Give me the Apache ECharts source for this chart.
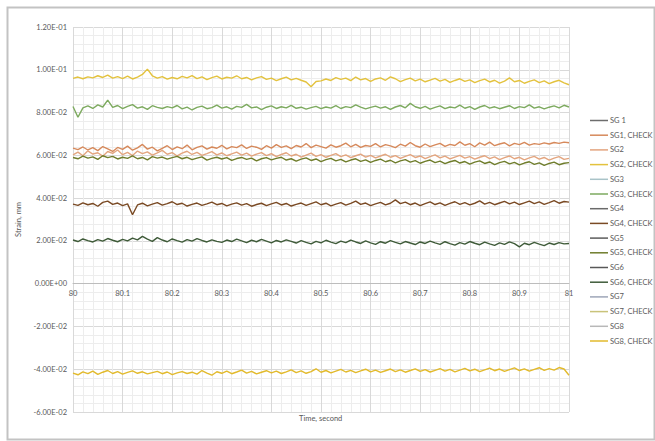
<!DOCTYPE html>
<html>
<head>
<meta charset="utf-8">
<script src="https://cdn.jsdelivr.net/npm/echarts@6/dist/echarts.min.js"></script>
<style>
html,body{margin:0;padding:0;background:#fff;}
#c{width:655px;height:441px;}
</style>
</head>
<body>
<div id="c"></div>
<script>
// ---------- data ----------
var times = [80.00,80.01,80.02,80.03,80.04,80.05,80.06,80.07,80.08,80.09,
80.10,80.11,80.12,80.13,80.14,80.15,80.16,80.17,80.18,80.19,
80.20,80.21,80.22,80.23,80.24,80.25,80.26,80.27,80.28,80.29,
80.30,80.31,80.32,80.33,80.34,80.35,80.36,80.37,80.38,80.39,
80.40,80.41,80.42,80.43,80.44,80.45,80.46,80.47,80.48,80.49,
80.50,80.51,80.52,80.53,80.54,80.55,80.56,80.57,80.58,80.59,
80.60,80.61,80.62,80.63,80.64,80.65,80.66,80.67,80.68,80.69,
80.70,80.71,80.72,80.73,80.74,80.75,80.76,80.77,80.78,80.79,
80.80,80.81,80.82,80.83,80.84,80.85,80.86,80.87,80.88,80.89,
80.90,80.91,80.92,80.93,80.94,80.95,80.96,80.97,80.98,80.99,81.00];

var seriesNames = ['SG 1','SG1, CHECK','SG2','SG2, CHECK','SG3','SG3, CHECK','SG4','SG4, CHECK',
                   'SG5','SG5, CHECK','SG6','SG6, CHECK','SG7','SG7, CHECK','SG8','SG8, CHECK'];

var sg1 = [];
var sg1Check = [.0634,.0627,.0639,.0625,.0636,.0622,.0641,.0630,.0618,.0637,
.0628,.0643,.0624,.0635,.0651,.0629,.0638,.0621,.0633,.0645,
.0627,.0640,.0631,.0648,.0626,.0637,.0644,.0629,.0639,.0633,
.0647,.0630,.0641,.0636,.0649,.0632,.0643,.0638,.0628,.0645,
.0634,.0650,.0637,.0644,.0631,.0646,.0639,.0655,.0636,.0648,
.0641,.0634,.0649,.0638,.0645,.0657,.0640,.0651,.0637,.0646,
.0642,.0655,.0639,.0650,.0644,.0636,.0652,.0643,.0660,.0645,
.0638,.0653,.0641,.0649,.0656,.0642,.0651,.0646,.0663,.0647,
.0655,.0640,.0658,.0648,.0662,.0645,.0653,.0659,.0644,.0656,
.0650,.0661,.0648,.0655,.0651,.0658,.0653,.0660,.0656,.0662,.0659];
var sg2 = [.0602,.0615,.0598,.0621,.0606,.0612,.0596,.0618,.0609,.0625,
.0603,.0614,.0599,.0620,.0608,.0616,.0601,.0611,.0623,.0605,
.0613,.0597,.0610,.0619,.0604,.0614,.0600,.0608,.0617,.0602,
.0611,.0598,.0607,.0615,.0601,.0610,.0596,.0606,.0613,.0599,
.0608,.0594,.0604,.0612,.0597,.0605,.0592,.0601,.0610,.0595,
.0603,.0591,.0600,.0608,.0594,.0602,.0589,.0598,.0606,.0592,
.0600,.0588,.0597,.0605,.0591,.0599,.0586,.0595,.0603,.0590,
.0597,.0585,.0594,.0602,.0588,.0596,.0583,.0592,.0600,.0587,
.0594,.0582,.0591,.0598,.0585,.0593,.0580,.0589,.0597,.0584,
.0591,.0579,.0588,.0595,.0582,.0590,.0578,.0587,.0594,.0581,.0586];
var sg2Check = [.0960,.0966,.0958,.0967,.0962,.0972,.0964,.0975,.0961,.0968,
.0959,.0970,.0957,.0966,.0978,.1003,.0972,.0961,.0968,.0956,
.0964,.0958,.0969,.0962,.0973,.0959,.0967,.0954,.0963,.0970,
.0957,.0965,.0961,.0972,.0958,.0964,.0953,.0962,.0968,.0955,
.0961,.0949,.0958,.0966,.0953,.0960,.0951,.0943,.0921,.0945,
.0948,.0957,.0950,.0963,.0955,.0961,.0949,.0966,.0953,.0959,
.0946,.0957,.0962,.0951,.0967,.0958,.0945,.0954,.0961,.0948,
.0956,.0944,.0952,.0960,.0947,.0955,.0941,.0950,.0958,.0946,
.0953,.0940,.0949,.0956,.0943,.0951,.0938,.0947,.0962,.0944,
.0950,.0937,.0946,.0953,.0940,.0948,.0935,.0944,.0951,.0939,.0930];
var sg3 = [];
var sg3Check = [.0828,.0778,.0822,.0831,.0819,.0836,.0826,.0858,.0824,.0833,
.0818,.0829,.0837,.0821,.0827,.0815,.0832,.0824,.0819,.0828,
.0822,.0833,.0817,.0825,.0812,.0824,.0830,.0818,.0823,.0835,
.0821,.0827,.0816,.0829,.0824,.0838,.0822,.0826,.0814,.0825,
.0831,.0819,.0827,.0822,.0834,.0820,.0825,.0816,.0823,.0829,
.0818,.0826,.0821,.0832,.0819,.0828,.0823,.0836,.0825,.0817,
.0824,.0830,.0821,.0827,.0815,.0826,.0833,.0822,.0843,.0827,
.0820,.0829,.0816,.0824,.0831,.0818,.0826,.0822,.0835,.0820,
.0828,.0815,.0826,.0833,.0821,.0827,.0818,.0825,.0832,.0819,
.0828,.0823,.0836,.0821,.0827,.0817,.0825,.0831,.0822,.0834,.0826];
var sg4 = [];
var sg4Check = [.0372,.0366,.0378,.0369,.0375,.0362,.0380,.0386,.0371,.0377,
.0365,.0373,.0322,.0368,.0376,.0364,.0372,.0379,.0367,.0374,
.0383,.0370,.0376,.0363,.0371,.0377,.0366,.0373,.0381,.0369,
.0375,.0364,.0372,.0378,.0367,.0374,.0362,.0370,.0376,.0365,
.0373,.0380,.0368,.0375,.0363,.0371,.0377,.0366,.0374,.0382,
.0369,.0376,.0364,.0372,.0379,.0367,.0375,.0386,.0371,.0377,
.0365,.0373,.0380,.0368,.0376,.0392,.0374,.0381,.0369,.0377,
.0365,.0374,.0382,.0370,.0378,.0366,.0375,.0383,.0371,.0379,
.0368,.0376,.0387,.0372,.0380,.0369,.0377,.0385,.0373,.0381,
.0370,.0378,.0386,.0374,.0382,.0371,.0379,.0388,.0376,.0384,.0381];
var sg5 = [];
var sg5Check = [.0590,.0584,.0596,.0587,.0593,.0581,.0598,.0589,.0595,.0583,
.0591,.0586,.0597,.0584,.0590,.0579,.0594,.0587,.0592,.0582,
.0589,.0595,.0584,.0591,.0580,.0587,.0593,.0578,.0586,.0591,
.0583,.0589,.0576,.0585,.0590,.0581,.0587,.0574,.0584,.0589,
.0579,.0586,.0591,.0578,.0584,.0573,.0582,.0588,.0576,.0583,
.0571,.0580,.0586,.0574,.0581,.0569,.0578,.0584,.0572,.0579,
.0567,.0576,.0582,.0570,.0577,.0565,.0574,.0580,.0568,.0575,
.0563,.0572,.0578,.0566,.0573,.0561,.0570,.0576,.0564,.0571,
.0559,.0568,.0574,.0562,.0569,.0557,.0566,.0572,.0560,.0567,
.0555,.0564,.0570,.0558,.0565,.0553,.0562,.0568,.0556,.0563,.0566];
var sg6 = [];
var sg6Check = [.0204,.0197,.0209,.0201,.0195,.0206,.0199,.0211,.0203,.0196,
.0207,.0200,.0213,.0205,.0221,.0208,.0198,.0215,.0204,.0196,
.0209,.0201,.0194,.0206,.0199,.0211,.0202,.0195,.0205,.0198,
.0193,.0204,.0197,.0208,.0200,.0192,.0203,.0196,.0207,.0199,
.0191,.0202,.0195,.0205,.0198,.0190,.0201,.0193,.0186,.0198,
.0191,.0203,.0194,.0187,.0199,.0192,.0204,.0195,.0188,.0200,
.0191,.0184,.0196,.0189,.0201,.0193,.0186,.0197,.0190,.0183,
.0195,.0188,.0199,.0191,.0184,.0196,.0187,.0180,.0192,.0185,
.0197,.0189,.0182,.0194,.0186,.0179,.0191,.0184,.0195,.0187,
.0172,.0189,.0182,.0193,.0185,.0178,.0190,.0183,.0192,.0186,.0188];
var sg7 = [];
var sg7Check = [];
var sg8 = [];
var sg8Check = [-.0418,-.0426,-.0412,-.0421,-.0409,-.0424,-.0414,-.0406,-.0420,-.0411,
-.0423,-.0415,-.0408,-.0419,-.0412,-.0422,-.0416,-.0410,-.0421,-.0413,
-.0425,-.0417,-.0411,-.0420,-.0414,-.0423,-.0406,-.0418,-.0428,-.0412,
-.0419,-.0409,-.0421,-.0413,-.0404,-.0418,-.0410,-.0422,-.0414,-.0407,
-.0417,-.0409,-.0420,-.0412,-.0403,-.0416,-.0408,-.0419,-.0411,-.0398,
-.0414,-.0406,-.0417,-.0409,-.0401,-.0413,-.0405,-.0416,-.0408,-.0400,
-.0412,-.0404,-.0415,-.0407,-.0399,-.0411,-.0403,-.0414,-.0406,-.0398,
-.0410,-.0402,-.0413,-.0405,-.0397,-.0409,-.0401,-.0412,-.0404,-.0396,
-.0408,-.0400,-.0411,-.0403,-.0395,-.0407,-.0399,-.0410,-.0402,-.0394,
-.0406,-.0398,-.0409,-.0401,-.0393,-.0405,-.0397,-.0404,-.0392,-.0399,-.0428];

var seriesValues = [sg1, sg1Check, sg2, sg2Check, sg3, sg3Check, sg4, sg4Check,
                    sg5, sg5Check, sg6, sg6Check, sg7, sg7Check, sg8, sg8Check];

var yTicks = [-0.06,-0.04,-0.02,0,0.02,0.04,0.06,0.08,0.10,0.12];
var yTickLabels = ['-6.00E-02','-4.00E-02','-2.00E-02','0.00E+00','2.00E-02','4.00E-02','6.00E-02','8.00E-02','1.00E-01','1.20E-01'];
var xTicks = [80,80.1,80.2,80.3,80.4,80.5,80.6,80.7,80.8,80.9,81];
var xTickLabels = ['80','80.1','80.2','80.3','80.4','80.5','80.6','80.7','80.8','80.9','81'];

// ---------- styles ----------
var colors = ['#6d6d6d','#D6895B','#E3A57F','#E3C23E','#a9c3c8','#7DAA5F','#6a6a6a','#7A4A24',
              '#5c5c5c','#6F7D2C','#585858','#3F5B39','#9ea6b8','#c9c37a','#b8b8b8','#E2BA2C'];

function lookup(ticks, labels, v){
  for (var i=0;i<ticks.length;i++){ if (Math.abs(ticks[i]-v)<1e-6) return labels[i]; }
  return '';
}

var series = seriesNames.map(function(name, k){
  return {
    name: name,
    type: 'line',
    symbol: 'none',
    showSymbol: false,
    animation: false,
    lineStyle: {width: 1.4, color: colors[k]},
    itemStyle: {color: colors[k]},
    data: seriesValues[k].map(function(v, i){ return [times[i], v]; })
  };
});

var gridTop = 27, gridBottomPx = 412, yMin = -0.06, yMax = 0.12;
var zeroOffset = (gridBottomPx - gridTop) * (0 - yMin) / (yMax - yMin); // px from bottom to zero line

var font = 'Lato, "Open Sans", sans-serif';
var chart = echarts.init(document.getElementById('c'), null, {renderer: 'svg'});
chart.setOption({
  animation: false,
  backgroundColor: '#ffffff',
  textStyle: {fontFamily: font},
  grid: {left: 73, right: 86, top: gridTop, bottom: 441 - gridBottomPx},
  xAxis: {
    type: 'value', min: 80, max: 81, interval: 0.1,
    position: 'bottom', offset: -zeroOffset,
    axisLine: {show: true, onZero: false, lineStyle: {color: '#bdbdbd', width: 1}},
    axisTick: {show: false},
    axisLabel: {fontSize: 7.5, color: '#595959', margin: 6, fontFamily: font,
      formatter: function(v){ return lookup(xTicks, xTickLabels, v); }},
    splitLine: {show: true, lineStyle: {color: '#d9d9d9', width: 1}},
    minorTick: {show: false, splitNumber: 5},
    minorSplitLine: {show: true, lineStyle: {color: '#ededed', width: 1}}
  },
  yAxis: {
    type: 'value', min: yMin, max: yMax, interval: 0.02,
    name: 'Strain, mm', nameLocation: 'middle', nameGap: 47, nameRotate: 90,
    nameTextStyle: {fontSize: 7.5, color: '#595959', fontFamily: font},
    axisLine: {show: false, onZero: false},
    axisTick: {show: false},
    axisLabel: {fontSize: 7.5, color: '#595959', margin: 6, fontFamily: font,
      formatter: function(v){ return lookup(yTicks, yTickLabels, v); }},
    splitLine: {show: true, lineStyle: {color: '#d9d9d9', width: 1}},
    minorTick: {show: false, splitNumber: 5},
    minorSplitLine: {show: true, lineStyle: {color: '#ededed', width: 1}}
  },
  legend: {
    orient: 'vertical', left: 585, top: 111.5,
    icon: 'rect',
    itemWidth: 18, itemHeight: 1.5, itemGap: 6.7,
    data: seriesNames,
    textStyle: {fontSize: 7.5, lineHeight: 8, height: 8, color: '#595959', fontFamily: font, padding: [0,0,0,-3]}
  },
  graphic: [
    {type: 'rect', left: 5, top: 5, silent: true,
     shape: {x: 0, y: 0, width: 647, height: 432},
     style: {fill: 'none', stroke: '#c3c3c3', lineWidth: 2}, z: 100},
    {type: 'text', left: 299, top: 414, silent: true,
     style: {text: 'Time, second', fontSize: 7.5, fill: '#595959', fontFamily: font}}
  ],
  series: series
});
</script>
</body>
</html>
